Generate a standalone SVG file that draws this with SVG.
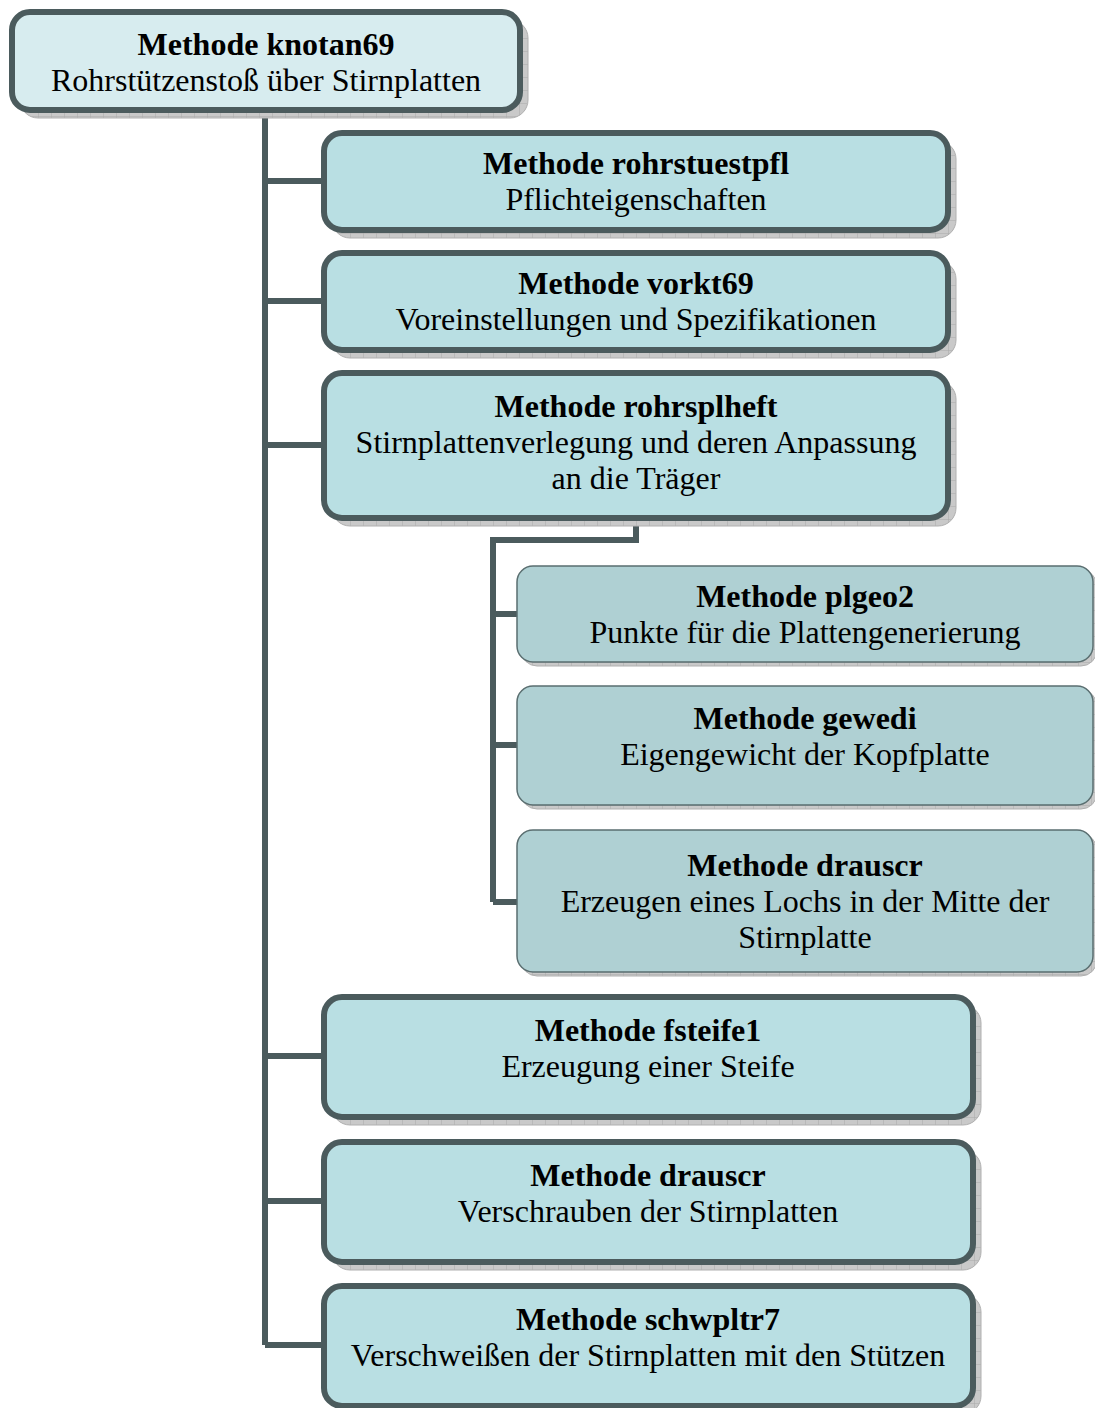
<svg xmlns="http://www.w3.org/2000/svg" width="1095" height="1408" viewBox="0 0 1095 1408">
<defs>
<pattern id="grid" width="13" height="13" patternUnits="userSpaceOnUse">
<rect width="13" height="13" fill="#c9c9c9"/>
<path d="M13 0V13M0 13H13" stroke="#a9a9a9" stroke-width="1" fill="none"/>
</pattern>
<style>
.sh{fill:url(#grid);stroke:#b0b0b0;stroke-width:1}
.n1{fill:#b9dfe3;stroke:#4b5b5d;stroke-width:6}
.n0{fill:#d7ecef;stroke:#4b5b5d;stroke-width:6}
.n2{fill:#afd0d3;stroke:#5a6e70;stroke-width:1.5}
.c{fill:none;stroke:#4b5b5d;stroke-width:6}
text{font-family:"Liberation Serif","Times New Roman",serif;font-size:32px;fill:#000;text-anchor:middle}
.b{font-weight:bold}
</style>
</defs>
<g id="connectors">
<path class="c" d="M265 110V1345M265 181H324M265 301H324M265 445H324M265 1056H324M265 1201H324M265 1345H324"/>
<path class="c" d="M636 518V540H493V902M493 614H517M493 745H517M493 902H517"/>
</g>
<g id="n-knotan69">
<rect class="sh" x="20" y="20" width="508" height="98" rx="18"/>
<rect class="n0" x="12" y="12" width="508" height="98" rx="18"/>
<text x="266" y="55" class="b">Methode knotan69</text>
<text x="266" y="91">Rohrstützenstoß über Stirnplatten</text>
</g>
<g id="n-rohrstuestpfl">
<rect class="sh" x="332" y="141" width="624" height="97" rx="18"/>
<rect class="n1" x="324" y="133" width="624" height="97" rx="18"/>
<text x="636" y="174" class="b">Methode rohrstuestpfl</text>
<text x="636" y="210">Pflichteigenschaften</text>
</g>
<g id="n-vorkt69">
<rect class="sh" x="332" y="261" width="624" height="97" rx="18"/>
<rect class="n1" x="324" y="253" width="624" height="97" rx="18"/>
<text x="636" y="294" class="b">Methode vorkt69</text>
<text x="636" y="330">Voreinstellungen und Spezifikationen</text>
</g>
<g id="n-rohrsplheft">
<rect class="sh" x="332" y="381" width="624" height="145" rx="18"/>
<rect class="n1" x="324" y="373" width="624" height="145" rx="18"/>
<text x="636" y="417" class="b">Methode rohrsplheft</text>
<text x="636" y="453">Stirnplattenverlegung und deren Anpassung</text>
<text x="636" y="489">an die Träger</text>
</g>
<g id="n-plgeo2">
<rect class="sh" x="521" y="570" width="576" height="96" rx="16"/>
<rect class="n2" x="517" y="566" width="576" height="96" rx="16"/>
<text x="805" y="607" class="b">Methode plgeo2</text>
<text x="805" y="643">Punkte für die Plattengenerierung</text>
</g>
<g id="n-gewedi">
<rect class="sh" x="521" y="690" width="576" height="119" rx="16"/>
<rect class="n2" x="517" y="686" width="576" height="119" rx="16"/>
<text x="805" y="729" class="b">Methode gewedi</text>
<text x="805" y="765">Eigengewicht der Kopfplatte</text>
</g>
<g id="n-drauscr1">
<rect class="sh" x="521" y="834" width="576" height="142" rx="16"/>
<rect class="n2" x="517" y="830" width="576" height="142" rx="16"/>
<text x="805" y="876" class="b">Methode drauscr</text>
<text x="805" y="912">Erzeugen eines Lochs in der Mitte der</text>
<text x="805" y="948">Stirnplatte</text>
</g>
<g id="n-fsteife1">
<rect class="sh" x="332" y="1005" width="649" height="120" rx="18"/>
<rect class="n1" x="324" y="997" width="649" height="120" rx="18"/>
<text x="648" y="1041" class="b">Methode fsteife1</text>
<text x="648" y="1077">Erzeugung einer Steife</text>
</g>
<g id="n-drauscr2">
<rect class="sh" x="332" y="1150" width="649" height="120" rx="18"/>
<rect class="n1" x="324" y="1142" width="649" height="120" rx="18"/>
<text x="648" y="1186" class="b">Methode drauscr</text>
<text x="648" y="1222">Verschrauben der Stirnplatten</text>
</g>
<g id="n-schwpltr7">
<rect class="sh" x="332" y="1294" width="649" height="120" rx="18"/>
<rect class="n1" x="324" y="1286" width="649" height="120" rx="18"/>
<text x="648" y="1330" class="b">Methode schwpltr7</text>
<text x="648" y="1366">Verschweißen der Stirnplatten mit den Stützen</text>
</g>
</svg>
